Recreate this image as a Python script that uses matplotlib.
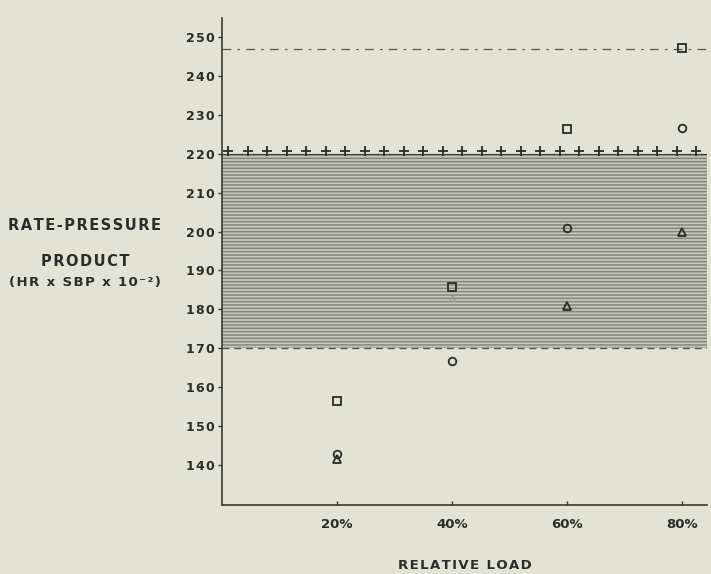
import numpy as np
import matplotlib.pyplot as plt

# relative load (%) and rate-pressure product values
loads = [20, 40, 60, 80]
squares = [156.5, 185.8, 226.4, 247.3]
circles = [142.8, 166.6, 200.9, 226.6]
triangles = [141.5, 183.0, 180.9, 200.0]

band_low = 170
band_high = 220
upper_line = 247
tick_vals = [140, 150, 160, 170, 180, 190, 200, 210, 220, 230, 240, 250]
xtick_labels = ['20%', '40%', '60%', '80%']

paper = '#e2e3d4'
ink = '#2b2b27'


def spaced(s, gap='\u200a'):
    # the original lettering is widely tracked
    return gap.join(s)


plt.rcParams['hatch.linewidth'] = 1.1
plt.rcParams['hatch.color'] = '#85867d'

fig = plt.figure(figsize=(7.11, 5.74), dpi=100)
fig.patch.set_facecolor(paper)
ax = fig.add_axes([0.3122, 0.1202, 0.6822, 0.8484])
ax.set_facecolor(paper)

ax.set_xlim(0, 84.3)
ax.set_ylim(129.7, 254.9)

# shaded normal range
ax.fill_between([0, 84.3], band_low, band_high, facecolor='#c6c7bb',
                hatch='-----', edgecolor='#85867d', linewidth=0, zorder=1)

# limit lines
ax.axhline(upper_line, color='#55564f', lw=0.9, ls=(0, (7, 5, 2, 5)), zorder=2)
ax.axhline(band_low, color='#55564f', lw=1.0, ls=(0, (5, 3.5)), zorder=2)
ax.axhline(band_high, color='#3d3e38', lw=0.8, zorder=2)
xp = np.linspace(1.1, 82.4, 25)
ax.plot(xp, [band_high + 0.6] * len(xp), ls='none', marker='+', ms=6.5,
        mew=1.3, color=ink, zorder=3)

mk = dict(ls='none', mfc='none', mec=ink, mew=1.3, ms=5.5, zorder=4)
ax.plot(loads, squares, marker='s', **mk)
ax.plot(loads, circles, marker='o', **mk)
ax.plot(loads[:1] + loads[2:], triangles[:1] + triangles[2:], marker='^', **mk)
ax.plot(loads[1:2], triangles[1:2], marker='^', ls='none', mfc='none',
        mec='#9a9b92', mew=1.0, ms=5, zorder=4)

for s in ['top', 'right']:
    ax.spines[s].set_visible(False)
for s in ['left', 'bottom']:
    ax.spines[s].set_color('#3a3a35')
    ax.spines[s].set_linewidth(1.2)

ax.set_yticks(tick_vals)
ax.set_yticklabels([spaced(str(v)) for v in tick_vals], fontsize=9,
                   fontweight='bold', color=ink)
ax.set_xticks(loads)
ax.set_xticklabels(xtick_labels, fontsize=9.5, fontweight='bold', color=ink)
ax.tick_params(axis='y', direction='out', length=3, width=1, colors='#3a3a35',
               labelcolor=ink, pad=2)
ax.tick_params(axis='x', direction='in', length=3, width=1, colors='#3a3a35',
               labelcolor=ink, pad=9)

fig.text(0.1195, 0.6063, spaced('RATE-PRESSURE'), ha='center', va='center',
         fontsize=10.5, fontweight='bold', color=ink)
fig.text(0.1195, 0.5436, spaced('PRODUCT'), ha='center', va='center',
         fontsize=10.5, fontweight='bold', color=ink)
fig.text(0.1195, 0.507, spaced('(HR x SBP x 10⁻²)'), ha='center',
         va='center', fontsize=9.5, fontweight='bold', color=ink)
fig.text(0.654, 0.014, spaced('RELATIVE LOAD'), ha='center',
         va='center', fontsize=9.5, fontweight='bold', color=ink)

fig.savefig('out.png', dpi=100, facecolor=paper)
